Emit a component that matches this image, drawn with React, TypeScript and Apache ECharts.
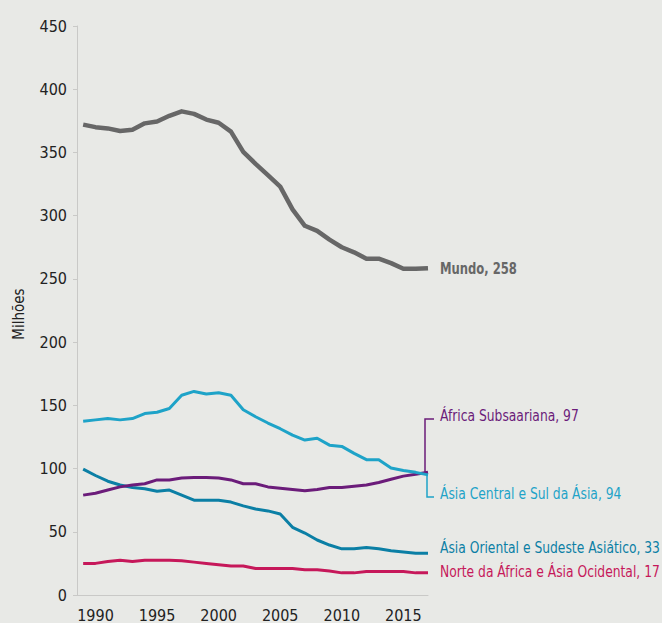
import React, { useEffect, useRef } from "react";
import * as echarts from "echarts";

const years = [1989, 1990, 1991, 1992, 1993, 1994, 1995, 1996, 1997, 1998, 1999, 2000, 2001, 2002, 2003, 2004, 2005, 2006, 2007, 2008, 2009, 2010, 2011, 2012, 2013, 2014, 2015, 2016, 2017];
const mundo = [372, 370, 369, 367, 368, 373, 374.5, 379, 382.5, 380.5, 376, 373.5, 366.5, 350.5, 341, 332, 323, 305, 292, 288, 281, 275, 271, 266, 266, 262.5, 258, 258, 258.5];
const asiaCentral = [137.5, 138.5, 139.5, 138.5, 139.5, 143.5, 144.5, 147.5, 158, 161, 159, 160, 158, 146.5, 141, 136, 131.5, 126.5, 122.5, 124, 118.5, 117.5, 112, 107, 107, 100.5, 98.5, 97, 95];
const africaSub = [79, 80.5, 83, 85.5, 87, 88, 91, 91, 92.5, 93, 93, 92.5, 91, 88, 88, 85.5, 84.5, 83.5, 82.5, 83.5, 85, 85, 86, 87, 89, 91.5, 94, 95.5, 97];
const asiaOriental = [99.5, 94.5, 90, 87, 85, 84, 82, 83, 79, 75, 75, 75, 73.5, 70.5, 68, 66.5, 64, 53.5, 49, 43.5, 39.5, 36.5, 36.5, 37.5, 36.5, 35, 34, 33, 33];
const norteAfrica = [25, 25, 26.5, 27.5, 26.5, 27.5, 27.5, 27.5, 27, 26, 25, 24, 23, 23, 21, 21, 21, 21, 20, 20, 19, 17.5, 17.5, 18.5, 18.5, 18.5, 18.5, 17.5, 17.5];

const seriesNames = ["Mundo", "Ásia Central e Sul da Ásia", "África Subsaariana", "Ásia Oriental e Sudeste Asiático", "Norte da África e Ásia Ocidental"];
const seriesColors = ["#676767", "#1ea3c8", "#6b1c7a", "#0b7fa5", "#c6185a"];
const seriesData = [mundo, asiaCentral, africaSub, asiaOriental, norteAfrica];
const endLabels = ["Mundo, 258", "Ásia Central e Sul da Ásia, 94", "África Subsaariana, 97", "Ásia Oriental e Sudeste Asiático, 33", "Norte da África e Ásia Ocidental, 17"];
const labelY = [268, 494, 416, 548, 572];
const yTicks = [0, 50, 100, 150, 200, 250, 300, 350, 400, 450];
const xTicks = [1990, 1995, 2000, 2005, 2010, 2015];

const FONT = "'DejaVu Sans Condensed', 'Liberation Sans Narrow', 'Roboto', sans-serif";

function measure(text: string, font: string): number {
  const c = document.createElement("canvas");
  const ctx = c.getContext("2d");
  if (!ctx) return 0;
  ctx.font = font;
  return ctx.measureText(text).width;
}

export default function App() {
  const ref = useRef<HTMLDivElement>(null);
  useEffect(() => {
    if (!ref.current) return;
    const chart = echarts.init(ref.current, null, { renderer: "svg" });
    const option: any = {
      animation: false,
      backgroundColor: "#e8e9e6",
      grid: { left: 77, right: 234, top: 26, bottom: 27 },
      xAxis: {
        type: "value",
        min: 1988.5,
        max: 2017,
        splitLine: { show: false },
        axisLine: { show: true, lineStyle: { color: "#c9c9c7", width: 1 } },
        axisTick: { show: false },
        axisLabel: {
          color: "#222",
          fontFamily: FONT,
          fontSize: 16,
          margin: 12,
          customValues: xTicks,
          formatter: (v: number) => String(v),
        },
      },
      yAxis: {
        type: "value",
        min: 0,
        max: 450,
        interval: 50,
        splitLine: { show: false },
        axisLine: { show: true, lineStyle: { color: "#c9c9c7", width: 1 } },
        axisTick: { show: true, length: 4, lineStyle: { color: "#c9c9c7" } },
        axisLabel: { color: "#222", fontFamily: FONT, fontSize: 16, margin: 10 },
      },
      series: seriesData.map((d, i) => ({
        name: seriesNames[i],
        type: "line",
        data: years.map((y, j) => [y, d[j]]),
        showSymbol: false,
        symbol: "none",
        lineStyle: { color: seriesColors[i], width: i === 0 ? 4.5 : 3, join: "round" },
        z: 10 - i,
      })),
    };
    chart.setOption(option);

    const regFont = `16px ${FONT}`;
    const boldFont = `bold 16px ${FONT}`;
    const wReg = measure(endLabels[4], regFont);
    const sReg = wReg > 0 ? 220 / wReg : 0.81;
    const wBold = measure(endLabels[0], boldFont);
    const sBold = wBold > 0 ? 77 / wBold : 0.81;

    const graphics: any[] = [
      {
        type: "text",
        x: 19,
        y: 314,
        rotation: Math.PI / 2,
        style: { text: "Milhões", fill: "#222", font: `15px ${FONT}`, textAlign: "center", textVerticalAlign: "middle" },
      },
    ];
    const last = years.length - 1;
    seriesData.forEach((d, i) => {
      const p = chart.convertToPixel({ gridIndex: 0 }, [years[last], d[last]]) as number[];
      const tx = p[0] + 12;
      if (i === 2 || i === 1) {
        const lx = p[0] + (i === 2 ? -3 : -1);
        graphics.push({
          type: "polyline",
          shape: { points: [[lx, p[1]], [lx, labelY[i] + 3], [p[0] + 6, labelY[i] + 3]] },
          style: { stroke: seriesColors[i], lineWidth: 1.5, fill: null },
        });
      }
      graphics.push({
        type: "text",
        x: tx,
        y: labelY[i],
        scaleX: i === 0 ? sBold : sReg,
        style: {
          text: endLabels[i],
          fill: seriesColors[i],
          font: i === 0 ? boldFont : regFont,
          textAlign: "left",
          textVerticalAlign: "middle",
        },
      });
    });
    chart.setOption({ graphic: graphics });
    return () => chart.dispose();
  }, []);
  return <div ref={ref} style={{ width: 662, height: 623, position: "absolute", left: 0, top: 0 }} />;
}
